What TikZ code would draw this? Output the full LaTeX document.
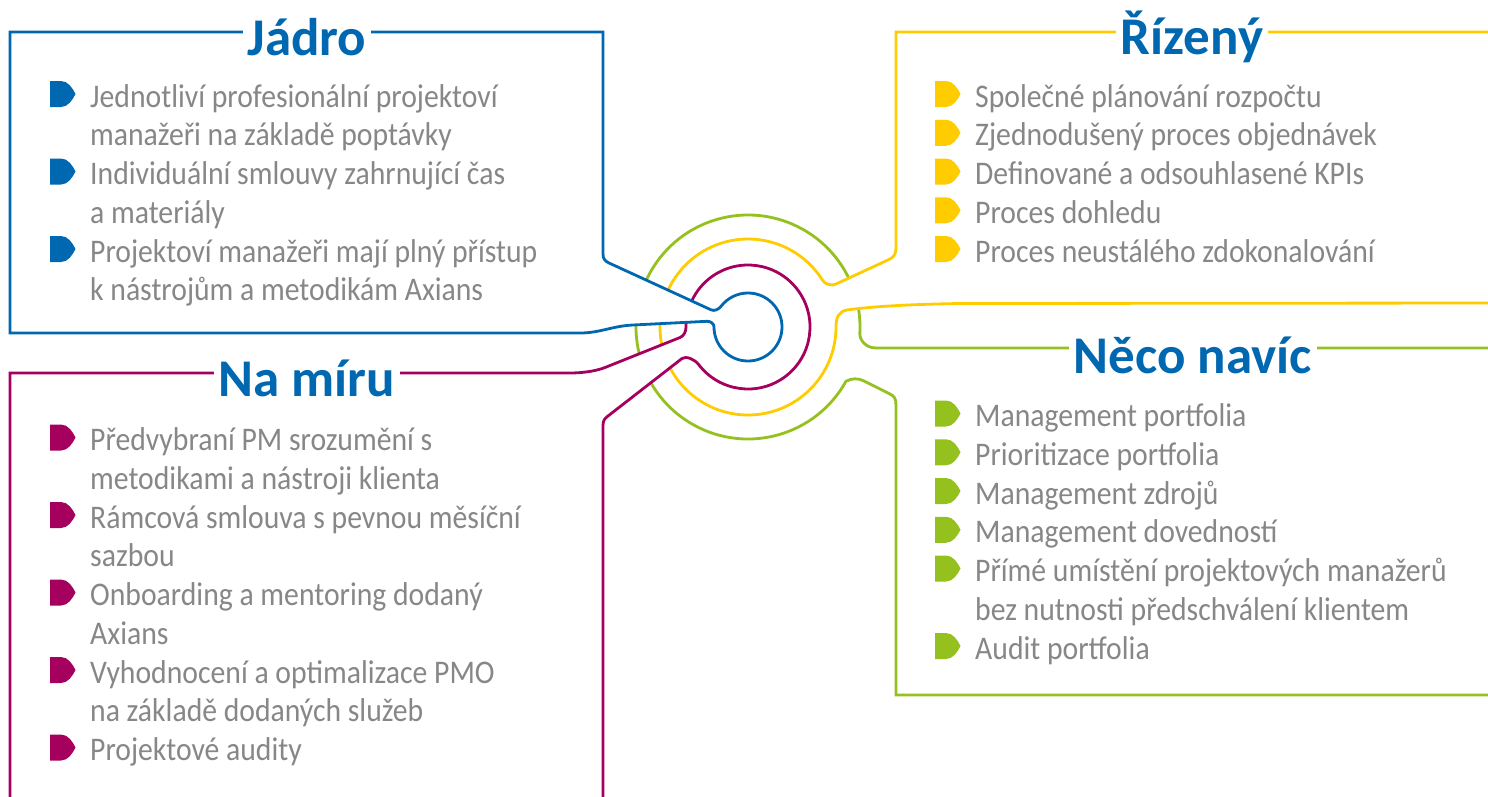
\documentclass[tikz,border=0pt]{standalone}
\usepackage{fontspec}
\usepackage{tikz}
\usetikzlibrary{calc, positioning}
\newfontfamily\itemfont{Carlito}[FakeStretch=0.9]
\newfontfamily\titlefont{Carlito}
\definecolor{jadroblue}{HTML}{0067B1}
\definecolor{namirumagenta}{HTML}{A6005F}
\definecolor{rizenyyellow}{HTML}{FFCC00}
\definecolor{necogreen}{HTML}{95C11F}
\definecolor{itemgrey}{HTML}{878787}
\tikzset{
    frameline/.style = {line width=2.8pt, fill=white},
    titlenode/.style = {fill=white, anchor=base, inner xsep=5pt, inner ysep=2pt, text=jadroblue, 
      font=\titlefont\bfseries\fontsize{53}{53}\selectfont},
    itemnode/.style = {anchor=north west, inner sep=0pt, text=itemgrey, 
      font=\itemfont\fontsize{33}{38.35}\selectfont, execute at begin node=\strut},
    pics/pointer/.style = {code={\fill[#1] (0,-13) -- (11,-13) .. controls (18,-13) and (22.5,-6) .. (25.5,0) 
      .. controls (22.5,6) and (18,13) .. (11,13) -- (0,13) -- cycle;}}
}
\begin{document}
\begin{tikzpicture}[x=1pt, y=-1pt]
    \useasboundingbox (0,0) rectangle (1488,796);
    \clip (0,0) rectangle (1488,796);
    \coordinate (ctr) at (748,327);

    % Neco navic
    \draw [frameline, draw=necogreen] (1193,348) -- (1500,348) -- (1500,695) -- (896,695) -- (896,405)
      .. controls (896,398) and (894,396) .. (889,393.5) -- (864,381)
      .. controls (858,378) and (852,378) .. ($(ctr)+(29:112)$)
      arc[start angle=29, end angle=363, radius=112]
      .. controls (859.2,340) and (866,347.8) .. (875,347.9) -- (1193,348);

    % Rizeny
    \draw [frameline, draw=rizenyyellow] (1192,32) -- (1500,32) -- (1500,303) -- (960,303.5)
      .. controls (900,304.5) and (870,307) .. (848,309.8)
      .. controls (839,311) and (836,317) .. ($(ctr)+(0:88)$)
      arc[start angle=0, end angle=328, radius=88]
      .. controls (825.3,284.6) and (831.5,286.1) .. (836,284) -- (889,259.5)
      .. controls (893.5,257.4) and (896,254) .. (896,248) -- (896,32) -- (1192,32);

    % Na miru
    \draw [frameline, draw=namirumagenta] (307,373) -- (10,373) -- (10,810) -- (603,810) -- (603,426)
      .. controls (603,421) and (604,419) .. (608,416) -- (682,358.5)
      .. controls (686,355.4) and (695,359.7) .. ($(ctr)+(142.8:62)$)
      arc[start angle=142.8, end angle=-180, radius=62]
      .. controls (686,332) and (683.7,336) .. (680,337.5) -- (605,367.5)
      .. controls (595.7,371.2) and (582,373) .. (570,373) -- (307,373);

    % Jadro
    \draw [frameline, draw=jadroblue] (307,32) -- (10,32) -- (10,333) -- (580,333)
      .. controls (600,333) and (612,326) .. (633,325) -- (707,321.3)
      .. controls (711,321.1) and (714,324) .. ($(ctr)+(180:34)$)
      arc[start angle=180, end angle=-142, radius=34]
      .. controls (718.7,309.3) and (714.6,311.5) .. (711,309.8) -- (609,263)
      .. controls (605,261) and (603,259) .. (603,254) -- (603,32) -- (307,32);

    \node [name=jadro, titlenode] at (307,55) {Jádro};
    \node [name=namiru, titlenode] at (307,396) {Na míru};
    \node [name=rizeny, titlenode] at (1192,54) {Řízený};
    \node [name=neco, titlenode] at (1193,373) {Něco navíc};

    \node [name=j1a, itemnode] at (90,80) {Jednotliví profesionální projektoví};
    \node [name=j1b, itemnode, below=0pt of j1a.south west, anchor=north west] {manažeři na základě poptávky};
    \node [name=j2a, itemnode, below=0pt of j1b.south west, anchor=north west] {Individuální smlouvy zahrnující čas};
    \node [name=j2b, itemnode, below=0pt of j2a.south west, anchor=north west] {a materiály};
    \node [name=j3a, itemnode, below=0pt of j2b.south west, anchor=north west] {Projektoví manažeři mají plný přístup};
    \node [name=j3b, itemnode, below=0pt of j3a.south west, anchor=north west] {k nástrojům a metodikám Axians};

    \node [name=m1a, itemnode] at (90,423.5) {Předvybraní PM srozumění s};
    \node [name=m1b, itemnode, below=0pt of m1a.south west, anchor=north west] {metodikami a nástroji klienta};
    \node [name=m2a, itemnode, below=0pt of m1b.south west, anchor=north west] {Rámcová smlouva s pevnou měsíční};
    \node [name=m2b, itemnode, below=0pt of m2a.south west, anchor=north west] {sazbou};
    \node [name=m3a, itemnode, below=0pt of m2b.south west, anchor=north west] {Onboarding a mentoring dodaný};
    \node [name=m3b, itemnode, below=0pt of m3a.south west, anchor=north west] {Axians};
    \node [name=m4a, itemnode, below=0pt of m3b.south west, anchor=north west] {Vyhodnocení a optimalizace PMO};
    \node [name=m4b, itemnode, below=0pt of m4a.south west, anchor=north west] {na základě dodaných služeb};
    \node [name=m5a, itemnode, below=0pt of m4b.south west, anchor=north west] {Projektové audity};

    \node [name=r1, itemnode] at (975,80) {Společné plánování rozpočtu};
    \node [name=r2, itemnode, below=0pt of r1.south west, anchor=north west] {Zjednodušený proces objednávek};
    \node [name=r3, itemnode, below=0pt of r2.south west, anchor=north west] {Definované a odsouhlasené KPIs};
    \node [name=r4, itemnode, below=0pt of r3.south west, anchor=north west] {Proces dohledu};
    \node [name=r5, itemnode, below=0pt of r4.south west, anchor=north west] {Proces neustálého zdokonalování};

    \node [name=n1, itemnode] at (975,399.5) {Management portfolia};
    \node [name=n2, itemnode, below=0pt of n1.south west, anchor=north west] {Prioritizace portfolia};
    \node [name=n3, itemnode, below=0pt of n2.south west, anchor=north west] {Management zdrojů};
    \node [name=n4, itemnode, below=0pt of n3.south west, anchor=north west] {Management dovedností};
    \node [name=n5a, itemnode, below=0pt of n4.south west, anchor=north west] {Přímé umístění projektových manažerů};
    \node [name=n5b, itemnode, below=0pt of n5a.south west, anchor=north west] {bez nutnosti předschválení klientem};
    \node [name=n6, itemnode, below=0pt of n5b.south west, anchor=north west] {Audit portfolia};

    \foreach \n in {j1a,j2a,j3a} \pic at ($(\n.north west)+(-40,14)$) {pointer=jadroblue};
    \foreach \n in {m1a,m2a,m3a,m4a,m5a} \pic at ($(\n.north west)+(-40,14)$) {pointer=namirumagenta};
    \foreach \n in {r1,r2,r3,r4,r5} \pic at ($(\n.north west)+(-40,14)$) {pointer=rizenyyellow};
    \foreach \n in {n1,n2,n3,n4,n5a,n6} \pic at ($(\n.north west)+(-40,14)$) {pointer=necogreen};
\end{tikzpicture}
\end{document}
